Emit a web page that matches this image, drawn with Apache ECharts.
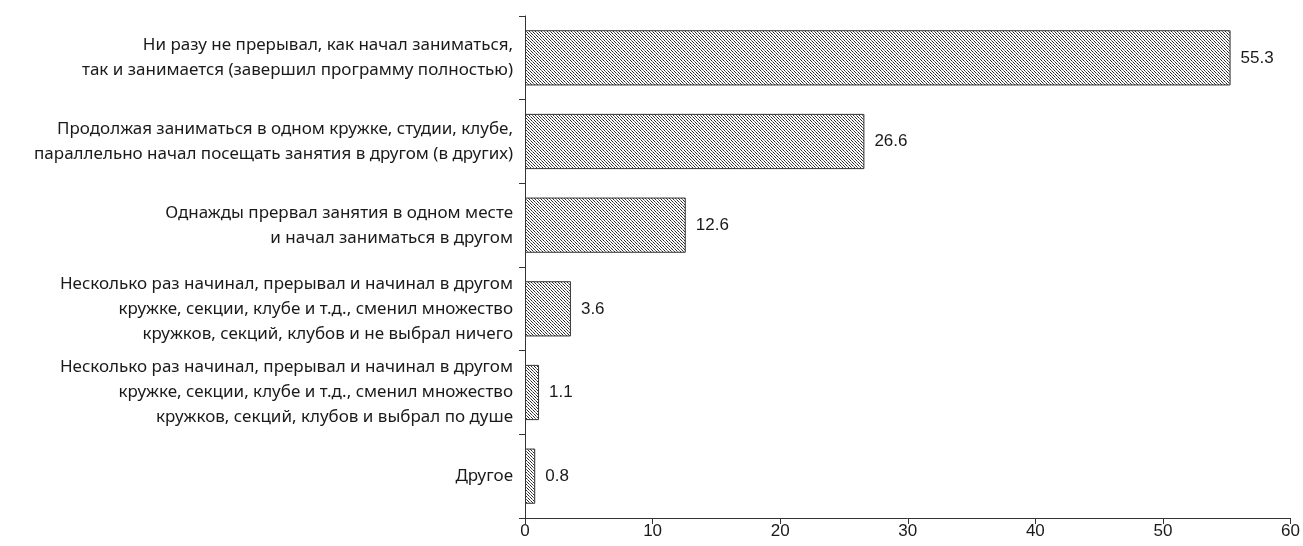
<!DOCTYPE html>
<html><head><meta charset="utf-8">
<script src="https://cdn.jsdelivr.net/npm/echarts@6/dist/echarts.min.js"></script>
<style>html,body{margin:0;padding:0;background:#fff}#c{width:1303px;height:546px}</style>
</head><body><div id="c"></div>
<script>
const categories = [
  "Ни разу не прерывал, как начал заниматься,\nтак и занимается (завершил программу полностью)",
  "Продолжая заниматься в одном кружке, студии, клубе,\nпараллельно начал посещать занятия в другом (в других)",
  "Однажды прервал занятия в одном месте\nи начал заниматься в другом",
  "Несколько раз начинал, прерывал и начинал в другом\nкружке, секции, клубе и т.д., сменил множество\nкружков, секций, клубов и не выбрал ничего",
  "Несколько раз начинал, прерывал и начинал в другом\nкружке, секции, клубе и т.д., сменил множество\nкружков, секций, клубов и выбрал по душе",
  "Другое"
];
const values = [55.3, 26.6, 12.6, 3.6, 1.1, 0.8];
const xTicks = [0, 10, 20, 30, 40, 50, 60];

function makePattern() {
  const c = document.createElement('canvas');
  c.width = 6; c.height = 6;
  const g = c.getContext('2d');
  g.fillStyle = '#ffffff'; g.fillRect(0, 0, 6, 6);
  g.fillStyle = '#2a2a2a';
  const pts = [[0,0],[1,1],[3,3],[4,4],[0,3],[3,0],[2,5],[5,2]];
  pts.forEach(p => g.fillRect(p[0], p[1], 1, 1));
  g.fillStyle = '#777777';
  [[2,2],[5,5],[1,4],[4,1]].forEach(p => g.fillRect(p[0], p[1], 1, 1));
  return c;
}

const narrow = '"Liberation Sans Narrow", "Arial Narrow", sans-serif';
const chart = echarts.init(document.getElementById('c'), null, {renderer: 'canvas'});
chart.setOption({
  animation: false,
  backgroundColor: '#fff',
  grid: {left: 525, right: 11, top: 16, bottom: 28, containLabel: false},
  xAxis: {
    type: 'value', min: xTicks[0], max: xTicks[xTicks.length - 1], interval: 10,
    splitLine: {show: false},
    axisLine: {show: true, lineStyle: {color: '#333', width: 1}},
    axisTick: {show: true, length: 6, lineStyle: {color: '#333'}},
    axisLabel: {color: '#1a1a1a', fontSize: 17, fontFamily: narrow, margin: 5}
  },
  yAxis: {
    type: 'category', inverse: true, data: categories,
    axisLine: {show: true, lineStyle: {color: '#333', width: 1}},
    axisTick: {show: true, length: 6, alignWithLabel: false, lineStyle: {color: '#333'}},
    axisLabel: {color: '#1a1a1a', fontSize: 17, lineHeight: 25, fontFamily: '"Noto Sans", sans-serif', margin: 12, align: 'right'}
  },
  series: [{
    type: 'bar', data: values, barWidth: '66%',
    itemStyle: {color: {image: makePattern(), repeat: 'repeat'}, borderColor: '#333', borderWidth: 1},
    label: {show: true, position: 'right', distance: 10, color: '#1a1a1a', fontSize: 17,
      fontFamily: narrow, formatter: p => p.value.toFixed(1)}
  }]
});
</script></body></html>
